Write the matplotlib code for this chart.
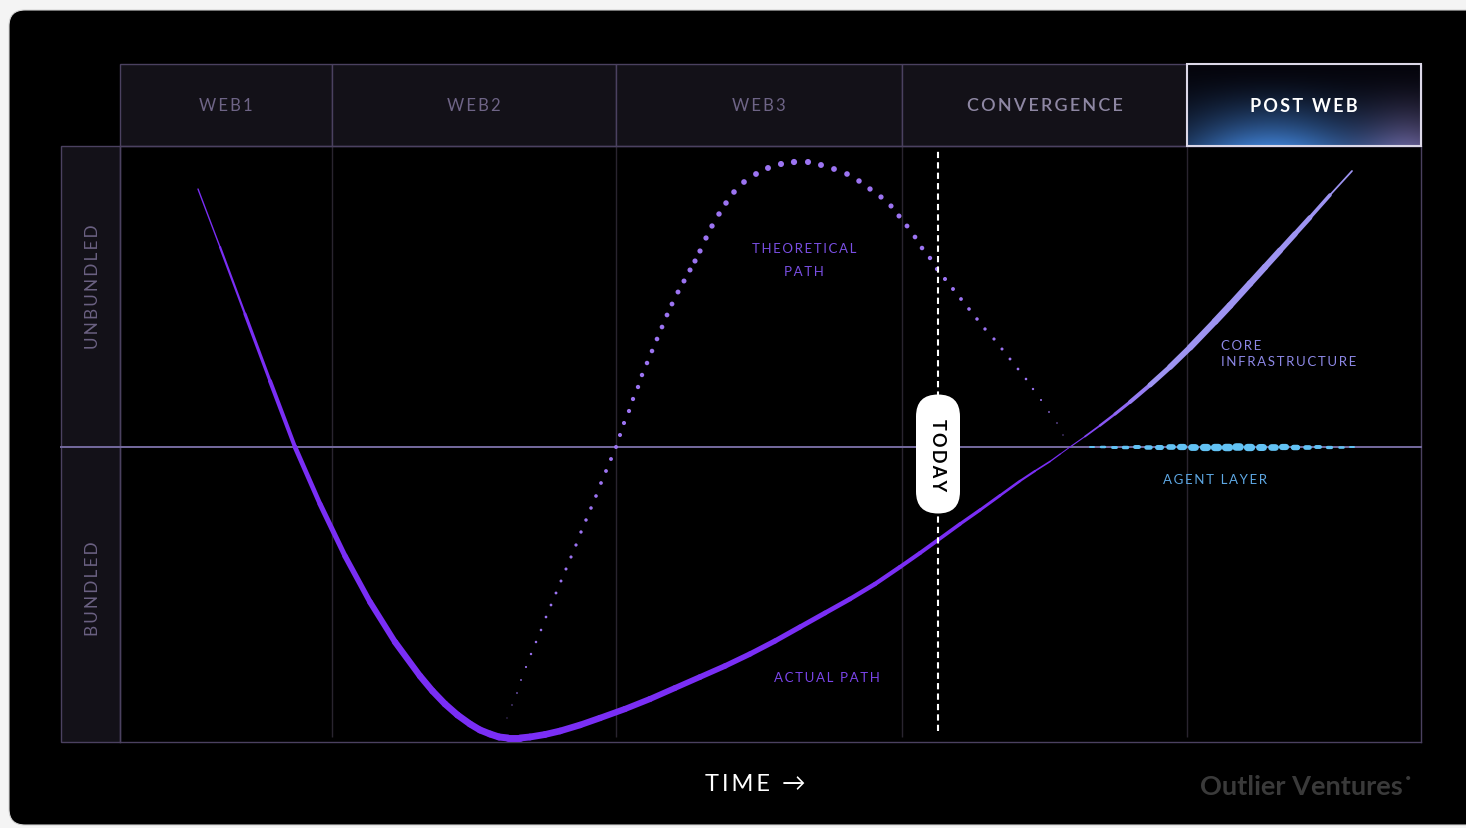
import numpy as np
import matplotlib.pyplot as plt
import matplotlib.transforms as mtransforms
from matplotlib.collections import LineCollection
from matplotlib.patches import Rectangle, FancyBboxPatch

plt.rcParams['font.family'] = ['Lato', 'DejaVu Sans']

# eras along the time axis
eras = ["WEB1", "WEB2", "WEB3", "CONVERGENCE", "POST WEB"]
era_edges = [0, 21.2, 49.6, 78.2, 106.7, 130.1]
today = 81.8

# actual path: time vs bundling (negative = bundled)
actual_t = [7.8, 10.0, 12.5, 15.0, 17.5, 20.0, 22.5, 25.0, 27.5, 30.0, 31.25, 32.5,
            33.75, 35.0, 36.0, 37.0, 37.9, 38.8, 40.0, 41.0, 42.5, 44.0, 46.0, 48.0,
            50.5, 53.0, 55.5, 58.0, 60.5, 63.0, 65.5, 68.0, 70.5, 73.0, 75.5, 78.0,
            80.0, 81.8, 84.0, 86.0, 88.0, 90.0, 91.5, 93.0, 94.0, 95.0]
actual_b = [25.8, 20.0, 13.3, 6.6, 0.0, -5.7, -10.9, -15.5, -19.5, -22.9, -24.4, -25.7,
            -26.8, -27.7, -28.3, -28.7, -29.0, -29.1, -29.1, -29.0, -28.75, -28.4, -27.8, -27.1,
            -26.2, -25.2, -24.1, -23.0, -21.9, -20.7, -19.4, -18.0, -16.6, -15.2, -13.7, -12.0,
            -10.6, -9.3, -7.7, -6.3, -4.85, -3.4, -2.4, -1.45, -0.72, 0.0]

# core infrastructure branch
core_t = [95.0, 96.5, 98.0, 99.5, 101.0, 103.0, 105.0, 107.0, 109.5, 111.0, 113.0, 114.5,
          116.0, 117.5, 119.0, 121.0, 123.2]
core_b = [0.0, 1.05, 2.15, 3.3, 4.5, 6.2, 8.0, 9.95, 12.55, 14.15, 16.35, 18.0,
          19.65, 21.3, 22.95, 25.2, 27.6]

# theoretical path (dotted)
theory_t = [38.7, 39.2, 39.7, 40.1, 40.6, 41.1, 41.6, 42.1, 42.6, 43.1, 43.6, 44.1,
            44.6, 45.1, 45.6, 46.1, 46.6, 47.1, 47.6, 48.1, 48.6, 49.1, 49.6,
            50.0, 50.4, 50.9, 51.3, 51.8, 52.2, 52.7, 53.2, 53.7, 54.2, 54.7, 55.2,
            55.8, 56.4, 57.0, 57.5, 58.0, 58.6, 59.2, 59.9, 60.6, 61.4, 62.4, 63.6,
            64.8, 66.1, 67.4, 68.8, 70.1, 71.4, 72.7, 73.9, 75.0, 76.1, 77.1, 77.9,
            78.7, 79.5, 80.2, 81.0, 81.7, 82.5, 83.3, 84.1, 84.9, 85.7, 86.5, 87.4,
            88.2, 89.0, 89.8, 90.6, 91.3, 92.1, 92.9, 93.7, 94.3]
theory_b = [-27.1, -25.8, -24.6, -23.3, -22.0, -20.7, -19.5, -18.3, -17.0, -15.8, -14.6, -13.4,
            -12.2, -11.0, -9.8, -8.5, -7.3, -6.1, -4.9, -3.6, -2.4, -1.2, 0.0,
            1.2, 2.4, 3.6, 4.8, 6.0, 7.2, 8.4, 9.6, 10.8, 12.0, 13.2, 14.3,
            15.5, 16.6, 17.7, 18.6, 19.6, 20.9, 22.1, 23.3, 24.4, 25.5, 26.5, 27.3,
            27.9, 28.3, 28.5, 28.5, 28.2, 27.8, 27.3, 26.6, 25.8, 25.0, 24.1, 23.1,
            22.1, 21.0, 19.9, 18.9, 17.8, 16.8, 15.8, 14.8, 13.8, 12.8, 11.8, 10.8,
            9.8, 8.8, 7.8, 6.8, 5.8, 4.7, 3.5, 2.4, 1.2]

# agent layer dashes along the midline
agent_t = [97.2, 98.3, 99.4, 100.5, 101.7, 102.8, 103.9, 105.1, 106.2, 107.3, 108.5, 109.6,
           110.7, 111.8, 112.9, 114.1, 115.3, 116.4, 117.5, 118.7, 119.8, 120.9, 122.1, 123.2]

PX = 0.72  # points per pixel at 100 dpi
BORDER = '#4b4160'
CELL = '#131118'


def tracked(s, gap="\u2009"):
    return gap.join(s)


def taper(ax, t, b, key_t, key_w, colors, z):
    pts = np.column_stack([t, b])
    segs = np.stack([pts[:-1], pts[1:]], axis=1)
    mid = (np.array(t[:-1]) + np.array(t[1:])) / 2
    lw = np.interp(mid, key_t, key_w) * PX
    if callable(colors):
        colors = colors(mid)
    lc = LineCollection(segs, linewidths=lw, colors=colors, capstyle='round',
                        joinstyle='round', zorder=z)
    ax.add_collection(lc)


fig = plt.figure(figsize=(14.66, 8.29), dpi=100, facecolor='#f4f4f4')

# dark card behind everything
bg = fig.add_axes([0, 0, 1, 1], zorder=-1)
bg.set_xlim(0, 1466)
bg.set_ylim(829, 0)
bg.axis('off')
bg.add_patch(FancyBboxPatch((9, 11), 1500, 815, boxstyle="round,pad=0,rounding_size=16",
                            facecolor='black', edgecolor='#d4d4d4', lw=0.8))

ax = fig.add_axes([120 / 1466, 86 / 829, 1301 / 1466, 596 / 829])
ax.set_facecolor('black')
for s in ax.spines.values():
    s.set_color(BORDER)
    s.set_linewidth(1)
ax.set_xticks([])
ax.set_yticks([])
side = mtransforms.blended_transform_factory(ax.transAxes, ax.transData)
col_w = 59 / 1301

# era columns and header cells
ax.vlines(era_edges[1:-1], -29.0, 30.1, color='#29242f', lw=1, zorder=1)
head_lo, head_hi = 30.1, 38.3
for i, name in enumerate(eras):
    x0, x1 = era_edges[i], era_edges[i + 1]
    ax.add_patch(Rectangle((x0, head_lo), x1 - x0, head_hi - head_lo, facecolor=CELL,
                           edgecolor=BORDER, lw=1, clip_on=False, zorder=2))

# glow behind the last era
u = np.linspace(0, 1, 300)[None, :]
v = np.linspace(0, 1, 120)[:, None]
blue = np.exp(-((u - 0.36) / 0.42) ** 2) * v ** 1.8
mauve = np.exp(-((u - 0.97) / 0.22) ** 2) * v ** 1.8
img = (np.array([0.02, 0.02, 0.05]) + blue[..., None] * np.array([0.22, 0.46, 0.74])
       + mauve[..., None] * np.array([0.33, 0.28, 0.42]))
ax.imshow(np.clip(img, 0, 1), extent=(era_edges[4], era_edges[5], head_lo, head_hi),
          aspect='auto', clip_on=False, zorder=3, interpolation='bilinear')
ax.add_patch(Rectangle((era_edges[4], head_lo), era_edges[5] - era_edges[4], head_hi - head_lo,
                       facecolor='none', edgecolor='#dcd8e8', lw=1.5, clip_on=False, zorder=4))

head_y = (head_lo + head_hi) / 2
for i, name in enumerate(eras):
    xc = (era_edges[i] + era_edges[i + 1]) / 2
    if name == "POST WEB":
        kw = dict(color='white', fontweight='bold', fontsize=13)
    elif name == "CONVERGENCE":
        kw = dict(color='#8e87a3', fontweight='semibold', fontsize=13)
    else:
        kw = dict(color='#6e6486', fontweight='normal', fontsize=12)
    ax.text(xc, head_y, tracked(name), ha='center', va='center', clip_on=False, zorder=5, **kw)

# bundled / unbundled column
ax.add_patch(Rectangle((-col_w, -29.5), col_w, 59.6, transform=side, facecolor=CELL,
                       edgecolor=BORDER, lw=1, clip_on=False, zorder=2))
ax.text(-col_w * 0.45, 16.1, tracked("UNBUNDLED"), transform=side, rotation=90, ha='center',
        va='center', fontsize=12.3, color='#6b6182', zorder=5)
ax.text(-col_w * 0.45, -14.1, tracked("BUNDLED"), transform=side, rotation=90, ha='center',
        va='center', fontsize=12.3, color='#6b6182', zorder=5)
ax.plot([-col_w, 1], [0, 0], transform=side, color='#71679a', lw=2 * PX, clip_on=False,
        zorder=3)

# theoretical path
dot_px = np.interp(theory_t, [38.7, 41.1, 49.6, 58.0, 67.5, 77.9, 81.7, 90.6, 94.3],
                   [1.0, 2.4, 4.0, 5.2, 6.2, 5.0, 4.2, 2.6, 1.2])
ax.scatter(theory_t, theory_b, s=(dot_px * PX) ** 2, color='#9c74f2', lw=0, zorder=4)

# actual path
taper(ax, actual_t, actual_b, [7.8, 12.0, 17.5, 30.0, 38.8, 49.6, 68.0, 81.8, 90.0, 95.0],
      [1.0, 2.5, 4.5, 6.5, 7.0, 6.2, 5.0, 3.8, 2.4, 0.8], '#7a2ef5', 5)


def core_colors(t):
    f = np.clip((t - 95.0) / 9.0, 0, 1)[:, None]
    a = np.array([0.478, 0.18, 0.96])
    b = np.array([0.62, 0.58, 0.95])
    return a * (1 - f) + b * f


taper(ax, core_t, core_b, [95.0, 100.0, 105.0, 110.0, 115.0, 119.0, 123.2],
      [0.8, 3.0, 5.5, 6.8, 6.2, 4.5, 0.8], core_colors, 5)

# agent layer
dash_px = np.interp(agent_t, [97.2, 103.0, 108.0, 112.0, 116.0, 120.0, 123.2],
                    [2.0, 4.6, 7.2, 7.6, 6.5, 3.8, 2.0])
segs = [[(t - 0.2, 0), (t + 0.2, 0)] for t in agent_t]
ax.add_collection(LineCollection(segs, linewidths=dash_px * PX, colors='#62c2f4',
                                 capstyle='round', zorder=5))

# today marker
ax.plot([today, today], [-28.4, 29.6], color='white', lw=1.5, linestyle=(0, (3, 2)), zorder=6)
ax.add_patch(FancyBboxPatch((today - 2.2, -0.7 - 5.95), 4.4, 11.9,
                            boxstyle="round,pad=0,rounding_size=2.2", facecolor='white',
                            edgecolor='none', zorder=7))
ax.text(today, -0.7, tracked("TODAY"), rotation=-90, ha='center', va='center', fontsize=13,
        fontweight='bold', color='black', zorder=8)

# series labels
ax.text(68.4, 19.9, tracked("THEORETICAL"), ha='center', va='center', fontsize=9.5,
        color='#7a4fe4', zorder=8)
ax.text(68.4, 17.6, tracked("PATH"), ha='center', va='center', fontsize=9.5,
        color='#7a4fe4', zorder=8)
ax.text(70.7, -23.0, tracked("ACTUAL PATH"), ha='center', va='center', fontsize=9.5,
        color='#7b45ea', zorder=8)
ax.text(110.1, 10.2, tracked("CORE"), ha='left', va='center', fontsize=9.5,
        color='#8d88e6', zorder=8)
ax.text(110.1, 8.6, tracked("INFRASTRUCTURE"), ha='left', va='center', fontsize=9.5,
        color='#8d88e6', zorder=8)
ax.text(109.5, -3.2, tracked("AGENT LAYER"), ha='center', va='center', fontsize=9.5,
        color='#5ea8e4', zorder=8)

ax.set_xlim(era_edges[0], era_edges[-1])
ax.set_ylim(-29.5, 30.1)

fig.text(755 / 1466, 1 - 785 / 829, tracked("TIME") + "  \u2192", ha='center', va='center',
         fontsize=17, color='white', fontweight='normal')
fig.text(1403 / 1466, 1 - 787 / 829, "Outlier Ventures", ha='right', va='center',
         fontsize=19.5, color='#3a3a3a', fontweight='bold')
fig.text(1408 / 1466, 1 - 779 / 829, "\u2022", ha='center', va='center', fontsize=8,
         color='#3a3a3a')

fig.savefig('out.png', dpi=100, facecolor=fig.get_facecolor())
